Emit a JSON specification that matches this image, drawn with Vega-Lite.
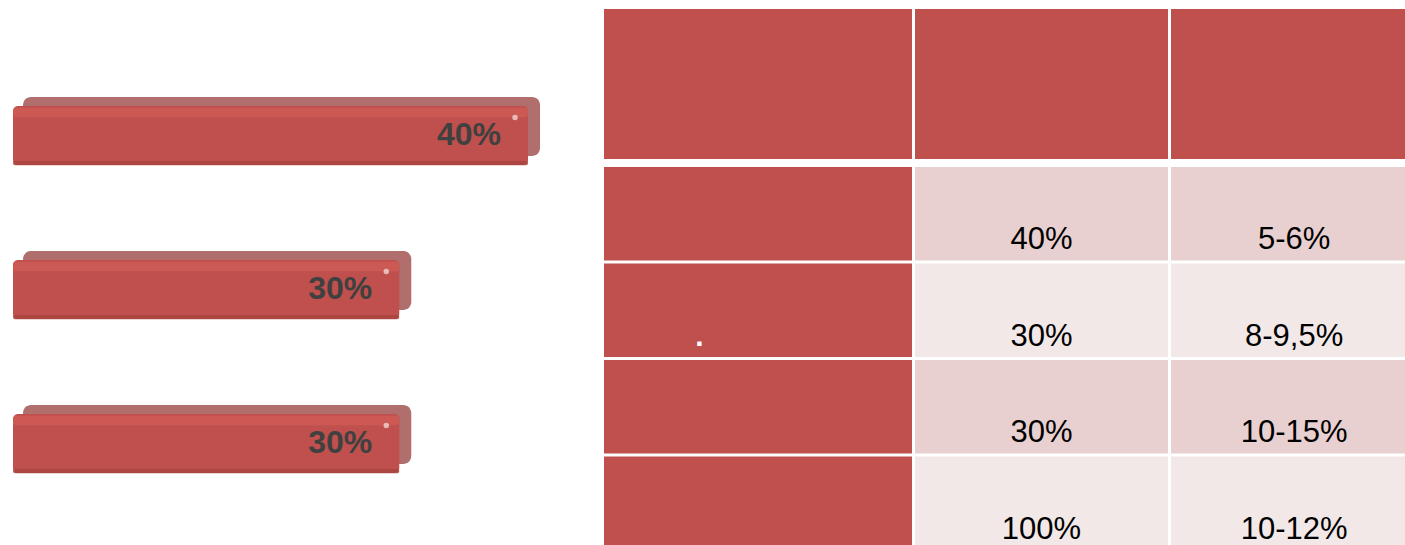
{
  "$schema": "https://vega.github.io/schema/vega-lite/v6.json",
  "padding": 0,
  "background": "white",
  "config": {"view": {"stroke": null}, "font": "Liberation Sans"},
  "datasets": {
    "bars": [
      {"item": "A", "share": 40, "label": "40%"},
      {"item": "B", "share": 30, "label": "30%"},
      {"item": "C", "share": 30, "label": "30%"}
    ],
    "header": [{"part": "header", "col": "c"}],
    "table": [
      {"col": "c1", "row": "r1", "text": "", "tone": "accent"},
      {"col": "c1", "row": "r2", "text": ".", "tone": "accent"},
      {"col": "c1", "row": "r3", "text": "", "tone": "accent"},
      {"col": "c1", "row": "r4", "text": "", "tone": "accent"},
      {"col": "c2", "row": "r1", "text": "40%", "tone": "dark"},
      {"col": "c2", "row": "r2", "text": "30%", "tone": "light"},
      {"col": "c2", "row": "r3", "text": "30%", "tone": "dark"},
      {"col": "c2", "row": "r4", "text": "100%", "tone": "light"},
      {"col": "c3", "row": "r1", "text": "5-6%", "tone": "dark"},
      {"col": "c3", "row": "r2", "text": "8-9,5%", "tone": "light"},
      {"col": "c3", "row": "r3", "text": "10-15%", "tone": "dark"},
      {"col": "c3", "row": "r4", "text": "10-12%", "tone": "light"}
    ]
  },
  "spacing": 4,
  "hconcat": [
    {
      "width": 600,
      "height": 545,
      "data": {"name": "bars"},
      "encoding": {
        "y": {"field": "item", "type": "nominal", "axis": null, "sort": null,
              "scale": {"paddingInner": 0.617, "paddingOuter": 0.578, "align": 0.596}},
        "x": {"field": "share", "type": "quantitative", "axis": null, "stack": null,
              "scale": {"domain": [-1.01, 45.59], "nice": false, "zero": false}},
        "x2": {"datum": 0}
      },
      "layer": [
        {"mark": {"type": "bar", "color": "#b06e6c", "cornerRadius": 8, "yOffset": -9, "xOffset": 12, "x2Offset": 10}},
        {"mark": {"type": "bar", "color": "#c0504d", "cornerRadius": 5}},
        {"mark": {"type": "bar", "color": "#cc5954", "height": {"band": 0.16}, "yOffset": -23, "cornerRadius": 3}},
        {"mark": {"type": "bar", "color": "#a9443f", "height": {"band": 0.07}, "yOffset": 27.5, "cornerRadius": 2, "opacity": 0.85}},
        {"mark": {"type": "point", "filled": true, "shape": "circle", "color": "#ffffff", "size": 30, "opacity": 0.6, "xOffset": -13, "yOffset": -18},
         "encoding": {"x2": null}},
        {"mark": {"type": "text", "align": "right", "baseline": "middle", "dx": -27, "dy": -1,
                  "font": "Liberation Sans", "fontSize": 32, "fontWeight": "bold", "color": "#404040"},
         "encoding": {"text": {"field": "label"}, "x2": null}}
      ]
    },
    {
      "spacing": 8,
      "vconcat": [
        {
          "spacing": 3,
          "hconcat": [
            {"width": 308, "height": 159, "data": {"name": "header"},
             "mark": {"type": "rect", "color": "#c0504d"},
             "encoding": {"y": {"field": "part", "type": "nominal", "axis": null,
                                "scale": {"paddingInner": 0, "paddingOuter": 0.03, "align": 1}}}},
            {"width": 253, "height": 159, "data": {"name": "header"},
             "mark": {"type": "rect", "color": "#c0504d"},
             "encoding": {"y": {"field": "part", "type": "nominal", "axis": null,
                                "scale": {"paddingInner": 0, "paddingOuter": 0.03, "align": 1}}}},
            {"width": 234, "height": 159, "data": {"name": "header"},
             "mark": {"type": "rect", "color": "#c0504d"},
             "encoding": {"y": {"field": "part", "type": "nominal", "axis": null,
                                "scale": {"paddingInner": 0, "paddingOuter": 0.03, "align": 1}}}}
          ]
        },
        {
          "spacing": 3,
          "hconcat": [
            {
              "width": 308, "height": 378,
              "data": {"name": "table"},
              "transform": [{"filter": "datum.col === 'c1'"}],
              "encoding": {
                "y": {"field": "row", "type": "nominal", "axis": null,
                      "scale": {"domain": ["r1", "r2", "r3", "r4"], "range": [0, 383], "paddingInner": 0.0311, "paddingOuter": 0}}
              },
              "layer": [
                {"mark": {"type": "rect", "clip": true},
                 "encoding": {
                   "x": {"field": "col", "type": "nominal", "axis": null, "scale": {"paddingInner": 0, "paddingOuter": 0}},
                   "color": {"field": "tone", "type": "nominal", "legend": null,
                             "scale": {"domain": ["accent", "dark", "light"], "range": ["#c0504d", "#e8d0d0", "#f2e8e8"]}}
                 }},
                {"mark": {"type": "text", "clip": true, "align": "center", "baseline": "alphabetic", "dy": -11,
                          "font": "Liberation Sans", "fontSize": 30, "fontWeight": "bold", "color": "#ffffff"},
                 "encoding": {
                   "x": {"field": "col", "type": "nominal", "axis": null, "bandPosition": 0.31},
                   "y": {"field": "row", "type": "nominal", "axis": null, "bandPosition": 1},
                   "text": {"field": "text"}
                 }}
              ]
            },
            {
              "width": 253, "height": 378,
              "data": {"name": "table"},
              "transform": [{"filter": "datum.col === 'c2'"}],
              "encoding": {
                "y": {"field": "row", "type": "nominal", "axis": null,
                      "scale": {"domain": ["r1", "r2", "r3", "r4"], "range": [0, 383], "paddingInner": 0.0311, "paddingOuter": 0}}
              },
              "layer": [
                {"mark": {"type": "rect", "clip": true},
                 "encoding": {
                   "x": {"field": "col", "type": "nominal", "axis": null, "scale": {"paddingInner": 0, "paddingOuter": 0}},
                   "color": {"field": "tone", "type": "nominal", "legend": null,
                             "scale": {"domain": ["accent", "dark", "light"], "range": ["#c0504d", "#e8d0d0", "#f2e8e8"]}}
                 }},
                {"mark": {"type": "text", "clip": true, "align": "center", "baseline": "alphabetic", "dy": -11,
                          "font": "Liberation Sans", "fontSize": 31, "color": "#000000"},
                 "encoding": {
                   "x": {"field": "col", "type": "nominal", "axis": null, "bandPosition": 0.5},
                   "y": {"field": "row", "type": "nominal", "axis": null, "bandPosition": 1},
                   "text": {"field": "text"}
                 }}
              ]
            },
            {
              "width": 234, "height": 378,
              "data": {"name": "table"},
              "transform": [{"filter": "datum.col === 'c3'"}],
              "encoding": {
                "y": {"field": "row", "type": "nominal", "axis": null,
                      "scale": {"domain": ["r1", "r2", "r3", "r4"], "range": [0, 383], "paddingInner": 0.0311, "paddingOuter": 0}}
              },
              "layer": [
                {"mark": {"type": "rect", "clip": true},
                 "encoding": {
                   "x": {"field": "col", "type": "nominal", "axis": null, "scale": {"paddingInner": 0, "paddingOuter": 0}},
                   "color": {"field": "tone", "type": "nominal", "legend": null,
                             "scale": {"domain": ["accent", "dark", "light"], "range": ["#c0504d", "#e8d0d0", "#f2e8e8"]}}
                 }},
                {"mark": {"type": "text", "clip": true, "align": "center", "baseline": "alphabetic", "dy": -11,
                          "font": "Liberation Sans", "fontSize": 31, "color": "#000000"},
                 "encoding": {
                   "x": {"field": "col", "type": "nominal", "axis": null, "bandPosition": 0.526},
                   "y": {"field": "row", "type": "nominal", "axis": null, "bandPosition": 1},
                   "text": {"field": "text"}
                 }}
              ]
            }
          ]
        }
      ]
    }
  ]
}
